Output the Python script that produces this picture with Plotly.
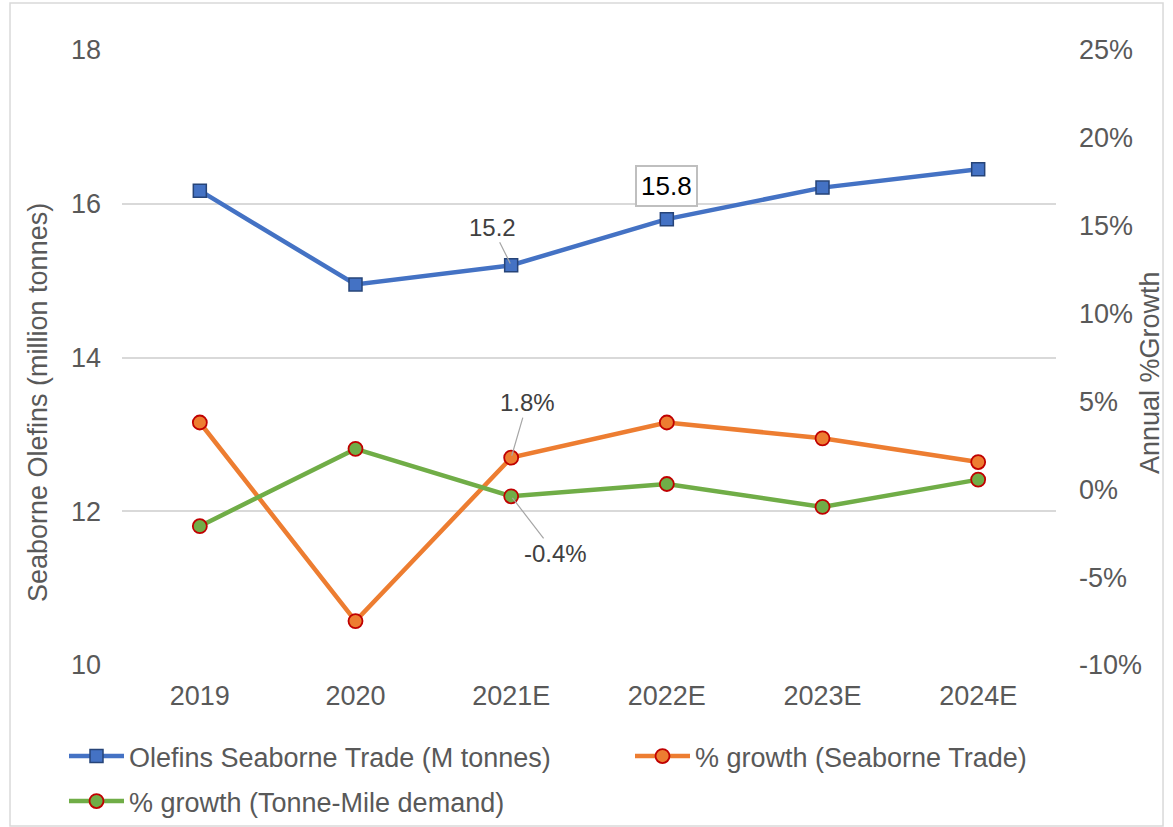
import plotly.graph_objects as go

years = ["2019", "2020", "2021E", "2022E", "2023E", "2024E"]
trade_mt = [16.17, 14.95, 15.2, 15.8, 16.21, 16.45]
growth_trade = [3.8, -7.5, 1.8, 3.8, 2.9, 1.55]
growth_tonne_mile = [-2.1, 2.3, -0.4, 0.3, -1.0, 0.55]

left_ticks = [10, 12, 14, 16, 18]
right_ticks = [-10, -5, 0, 5, 10, 15, 20, 25]
right_tick_text = [f"{v}%" for v in right_ticks]

BLUE = "#4472C4"
ORANGE = "#ED7D31"
GREEN = "#70AD47"
GREY_TXT = "#595959"
FONT = "Liberation Sans, Arial, sans-serif"
FS = 27

fig = go.Figure()

fig.add_trace(go.Scatter(
    x=years, y=trade_mt, name="Olefins Seaborne Trade (M tonnes)",
    mode="lines+markers",
    line=dict(color=BLUE, width=4.5),
    marker=dict(symbol="square", size=13, color=BLUE,
                line=dict(color="#264478", width=1.5)),
    yaxis="y", legend="legend",
))
fig.add_trace(go.Scatter(
    x=years, y=growth_trade, name="% growth (Seaborne Trade)",
    mode="lines+markers",
    line=dict(color=ORANGE, width=4.5),
    marker=dict(symbol="circle", size=14, color=ORANGE,
                line=dict(color="#C00000", width=1.8)),
    yaxis="y2", legend="legend2",
))
fig.add_trace(go.Scatter(
    x=years, y=growth_tonne_mile, name="% growth (Tonne-Mile demand)",
    mode="lines+markers",
    line=dict(color=GREEN, width=4.5),
    marker=dict(symbol="circle", size=14, color=GREEN,
                line=dict(color="#C00000", width=1.8)),
    yaxis="y2", legend="legend3",
))

# value callouts
i21 = years.index("2021E")
i22 = years.index("2022E")
fig.add_annotation(
    x=years[i21], y=trade_mt[i21], xref="x", yref="y",
    text=f"{trade_mt[i21]:.1f}", showarrow=True, arrowhead=0,
    arrowwidth=1.2, arrowcolor="#A6A6A6", ax=-19, ay=-38, standoff=2,
    font=dict(family=FONT, size=24, color="#404040"),
)
fig.add_annotation(
    x=years[i22], y=trade_mt[i22], xref="x", yref="y",
    text=f"{trade_mt[i22]:.1f}", showarrow=False, yshift=33,
    bordercolor="#BFBFBF", borderwidth=2, borderpad=4, bgcolor="white",
    font=dict(family=FONT, size=26, color="#000000"),
)
fig.add_annotation(
    x=years[i21], y=growth_trade[i21], xref="x", yref="y2",
    text=f"{growth_trade[i21]:.1f}%", showarrow=True, arrowhead=0,
    arrowwidth=1.2, arrowcolor="#A6A6A6", ax=16, ay=-55, standoff=2,
    font=dict(family=FONT, size=24, color="#404040"),
)
fig.add_annotation(
    x=years[i21], y=growth_tonne_mile[i21], xref="x", yref="y2",
    text=f"{growth_tonne_mile[i21]:.1f}%", showarrow=True, arrowhead=0,
    arrowwidth=1.2, arrowcolor="#A6A6A6", ax=44, ay=57, standoff=2,
    font=dict(family=FONT, size=24, color="#404040"),
)

# axis titles
fig.add_annotation(
    text="Seaborne Olefins (million tonnes)", xref="paper", yref="paper",
    x=-0.0899, y=0.426, xanchor="center", yanchor="middle",
    textangle=-90, showarrow=False,
    font=dict(family=FONT, size=FS, color=GREY_TXT),
)
fig.add_annotation(
    text="Annual %Growth", xref="paper", yref="paper",
    x=1.1006, y=0.4764, xanchor="center", yanchor="middle",
    textangle=-90, showarrow=False,
    font=dict(family=FONT, size=FS, color=GREY_TXT),
)

# chart-area border
fig.add_shape(type="rect", xref="paper", yref="paper",
              x0=-0.1199, x1=1.1146, y0=-0.2618, y1=1.0764,
              line=dict(color="#D9D9D9", width=1.5), layer="below")

legend_common = dict(
    orientation="h", xref="container", yref="container",
    xanchor="left", yanchor="top", itemwidth=55,
    font=dict(family=FONT, size=FS, color=GREY_TXT),
    bgcolor="rgba(0,0,0,0)",
)

fig.update_layout(
    width=1173, height=827,
    margin=dict(l=122, r=117, t=50, b=162),
    paper_bgcolor="white", plot_bgcolor="white",
    font=dict(family=FONT, size=FS, color=GREY_TXT),
    showlegend=True,
    legend=dict(x=64 / 1173, y=1 - 732 / 827, **legend_common),
    legend2=dict(x=630 / 1173, y=1 - 732 / 827, **legend_common),
    legend3=dict(x=64 / 1173, y=1 - 777 / 827, **legend_common),
    xaxis=dict(
        type="category", range=[-0.5, 5.5], showgrid=False,
        showline=False, zeroline=False, ticks="",
        tickfont=dict(size=FS, color=GREY_TXT), ticklabelstandoff=12,
    ),
    yaxis=dict(
        range=[10, 18], tickvals=left_ticks, showgrid=True,
        gridcolor="#D9D9D9", gridwidth=1.5, zeroline=False,
        showline=False, ticks="",
        tickfont=dict(size=FS, color=GREY_TXT), ticklabelstandoff=20,
    ),
    yaxis2=dict(
        range=[-10, 25], tickvals=right_ticks, ticktext=right_tick_text,
        overlaying="y", side="right", showgrid=False, zeroline=False,
        showline=False, ticks="",
        tickfont=dict(size=FS, color=GREY_TXT), ticklabelstandoff=22,
    ),
)

fig.write_html("out.html")
